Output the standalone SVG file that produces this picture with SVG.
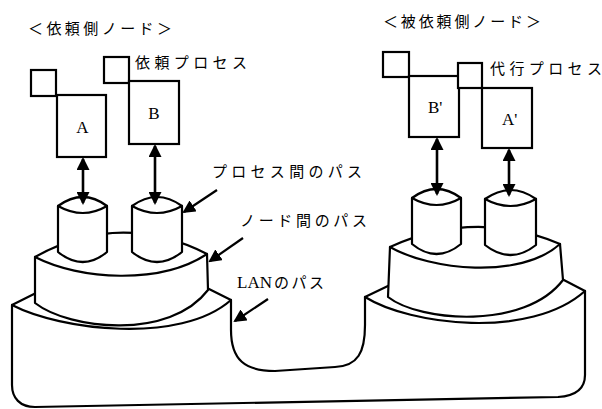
<svg xmlns="http://www.w3.org/2000/svg" width="602" height="409" viewBox="0 0 602 409">
<defs>
<style>
.ln{fill:none;stroke:#000;stroke-width:2.2;stroke-linejoin:round;stroke-linecap:round}
.sh{fill:#fff;stroke:#000;stroke-width:2.2;stroke-linejoin:round}
.bx{fill:#fff;stroke:#000;stroke-width:2.2}
.jp{font-family:"Noto Sans CJK JP","Noto Sans",sans-serif;font-size:15px;fill:#000}
.lt{font-family:"Liberation Serif",serif;font-size:17px;fill:#000}
.ar{fill:none;stroke:#000;stroke-width:2.6}
.la{fill:none;stroke:#000;stroke-width:2.2}
</style>
<marker id="ah" viewBox="0 0 13 13" markerWidth="13" markerHeight="13" markerUnits="userSpaceOnUse" refX="11" refY="6.5" orient="auto-start-reverse">
<path d="M0,0 L13,6.5 L0,13 Z" fill="#000"/>
</marker>
</defs>
<rect width="602" height="409" fill="#fff"/>

<g id="lan">
<path class="sh" d="M12,305 L40,291 L205,287 L231,300 L231,330 C231,360 245,371 275,371 L335,367 C358,366 365,352 365,325 L365,297 L390,285 L560,278 L585,291 L585,375 C585,390 575,396 558,397 L35,407 C20,407 12,398 12,385 Z"/>
<path class="ln" d="M12,305 C60,330 180,345 231,300"/>
<path class="ln" d="M365,297 C410,325 530,340 585,291"/>
</g>

<g id="node-tier-left">
<path class="sh" d="M35,257 Q120,210 207,254 L208,290 C170,340 70,330 35,303 Z"/>
<path class="ln" d="M35,257 C80,280 160,285 207,254"/>
</g>

<g id="node-tier-right">
<path class="sh" d="M390,247 Q475,208.5 560,244 L563,280 C525,330 420,322 388,297 Z"/>
<path class="ln" d="M390,247 C430,270 520,280 560,244"/>
</g>

<g id="cyl-a">
<path class="sh" d="M58,206 Q83,188 107,206 L107,252 Q83,272 58,252 Z"/>
<path class="ln" d="M58,206 Q83,220 107,206"/>
</g>
<g id="cyl-b">
<path class="sh" d="M132,206 Q157,188 182,206 L182,252 Q157,272 132,252 Z"/>
<path class="ln" d="M132,206 Q157,220 182,206"/>
</g>
<g id="cyl-b2">
<path class="sh" d="M412,198 Q436.5,180 461,198 L461,244 Q436.5,264 412,244 Z"/>
<path class="ln" d="M412,198 Q436.5,212 461,198"/>
</g>
<g id="cyl-a2">
<path class="sh" d="M485,199 Q510.5,181 536,199 L536,245 Q510.5,265 485,245 Z"/>
<path class="ln" d="M485,199 Q510.5,213 536,199"/>
</g>

<g id="proc-a">
<rect class="bx" x="31" y="70" width="25" height="26"/>
<rect class="bx" x="57" y="95" width="49" height="62"/>
<text class="lt" x="82.5" y="133" text-anchor="middle">A</text>
</g>
<g id="proc-b">
<rect class="bx" x="104" y="57" width="25" height="26"/>
<rect class="bx" x="129" y="81" width="50" height="63"/>
<text class="lt" x="154" y="119" text-anchor="middle">B</text>
</g>
<g id="proc-b2">
<rect class="bx" x="383" y="52" width="26" height="25"/>
<rect class="bx" x="409" y="76" width="50" height="61"/>
<text class="lt" x="428" y="113">B'</text>
</g>
<g id="proc-a2">
<rect class="bx" x="458" y="63" width="24" height="25"/>
<rect class="bx" x="482" y="88" width="50" height="60"/>
<text class="lt" x="502" y="125">A'</text>
</g>

<g id="connectors">
<line class="ar" x1="83" y1="159" x2="83" y2="203" marker-start="url(#ah)" marker-end="url(#ah)"/>
<line class="ar" x1="155" y1="146" x2="155" y2="203" marker-start="url(#ah)" marker-end="url(#ah)"/>
<line class="ar" x1="437" y1="139" x2="437" y2="194" marker-start="url(#ah)" marker-end="url(#ah)"/>
<line class="ar" x1="509" y1="150" x2="509" y2="195" marker-start="url(#ah)" marker-end="url(#ah)"/>
<line class="la" x1="217" y1="190" x2="184" y2="212" marker-end="url(#ah)"/>
<line class="la" x1="243" y1="238" x2="210" y2="261" marker-end="url(#ah)"/>
<line class="la" x1="268" y1="299" x2="235" y2="321" marker-end="url(#ah)"/>
</g>

<g id="labels">
<text class="jp" x="28" y="34" textLength="144" lengthAdjust="spacing">＜依頼側ノード＞</text>
<text class="jp" x="383" y="26.5" textLength="158" lengthAdjust="spacing">＜被依頼側ノード＞</text>
<text class="jp" x="135" y="67.5" textLength="112" lengthAdjust="spacing">依頼プロセス</text>
<text class="jp" x="490" y="74" textLength="112" lengthAdjust="spacing">代行プロセス</text>
<text class="jp" x="212" y="177" textLength="150" lengthAdjust="spacing">プロセス間のパス</text>
<text class="jp" x="240" y="226" textLength="127" lengthAdjust="spacing">ノード間のパス</text>
<text class="jp" x="237" y="288"><tspan font-family="'Liberation Serif',serif" font-size="17">LAN</tspan><tspan dx="2" letter-spacing="2.5">のパス</tspan></text>
</g>
</svg>
